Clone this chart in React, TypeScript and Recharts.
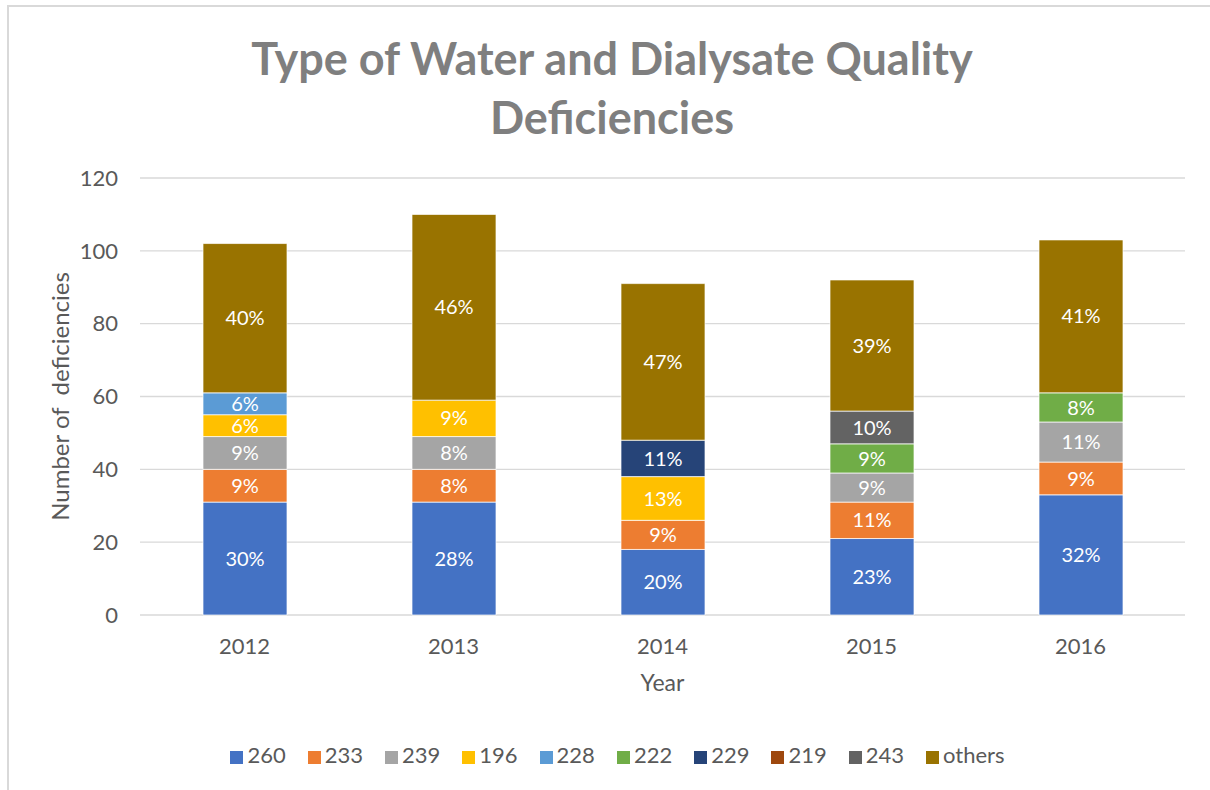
import { BarChart, Bar, XAxis, YAxis, CartesianGrid, Legend, LabelList } from 'recharts'

const years = ['2012', '2013', '2014', '2015', '2016']
const codes = ['260', '233', '239', '196', '228', '222', '229', '219', '243', 'others']
const COLORS = ['#4472C4', '#ED7D31', '#A5A5A5', '#FFC000', '#5B9BD5', '#70AD47', '#264478', '#9E480E', '#636363', '#997300']

// counts per year, bottom to top of each stack
const s260 = [31, 31, 18, 21, 33]
const s233 = [9, 9, 8, 10, 9]
const s239 = [9, 9, 0, 8, 11]
const s196 = [6, 10, 12, 0, 0]
const s228 = [6, 0, 0, 0, 0]
const s222 = [0, 0, 0, 8, 8]
const s229 = [0, 0, 10, 0, 0]
const s219 = [0, 0, 0, 0, 0]
const s243 = [0, 0, 0, 9, 0]
const sOthers = [41, 51, 43, 36, 42]

const series = [s260, s233, s239, s196, s228, s222, s229, s219, s243, sOthers]
const yTicks = [0, 20, 40, 60, 80, 100, 120]

const rows = years.map((year, i) => {
  const total = series.reduce((sum, s) => sum + s[i], 0)
  const row: Record<string, string | number> = { year }
  codes.forEach((c, k) => {
    const v = series[k][i]
    row[c] = v
    row[`${c}_pct`] = v > 0 ? `${Math.round((v / total) * 100)}%` : ''
  })
  return row
})

const TEXT = '#595959'

export default function App() {
  return (
    <div style={{ position: 'relative', width: 1210, height: 790, overflow: 'hidden', fontFamily: 'Lato, sans-serif', background: '#fff' }}>
      <style>{`body{margin:0;overflow:hidden}`}</style>
      <div style={{ position: 'absolute', left: 7, top: 5, width: 1400, height: 1000, borderLeft: '2px solid #D9D9D9', borderTop: '2px solid #D9D9D9' }} />
      <div style={{ position: 'absolute', left: 0, width: 1224, top: 29, textAlign: 'center', fontSize: 45, fontWeight: 700, color: '#7F7F7F', lineHeight: '59px' }}>
        Type of Water and Dialysate Quality<br />Deficiencies
      </div>
      <div style={{ position: 'absolute', left: 0, top: 0 }}>
        <BarChart width={1210} height={790} data={rows} margin={{ top: 178, right: 25, left: 0, bottom: 22 }} barSize={84}>
          <CartesianGrid vertical={false} stroke="#D9D9D9" strokeWidth={1.4} />
          <XAxis
            dataKey="year"
            height={126}
            axisLine={false}
            tickLine={false}
            tickMargin={17}
            tick={{ fill: TEXT, fontSize: 22 }}
            label={{ value: 'Year', position: 'insideBottom', offset: 50, fill: TEXT, fontSize: 23 }}
          />
          <YAxis
            width={140}
            domain={[0, 120]}
            ticks={yTicks}
            axisLine={false}
            tickLine={false}
            tickMargin={16}
            tick={{ fill: TEXT, fontSize: 22 }}
            label={{ value: 'Number of\u00A0 deficiencies', angle: -90, position: 'insideLeft', offset: 60, fill: TEXT, fontSize: 24, style: { textAnchor: 'middle' } }}
          />
          <Legend
            verticalAlign="bottom"
            iconType="square"
            iconSize={13}
            itemSorter={(item: any) => codes.indexOf(String(item.value))}
            wrapperStyle={{ fontSize: 22, left: 36 }}
            formatter={(value: string) => <span style={{ color: TEXT, marginRight: 12 }}>{value}</span>}
          />
          {codes.map((c, k) => (
            <Bar key={c} dataKey={c} name={c} stackId="a" fill={COLORS[k]} stroke="#ffffff" strokeWidth={0.7} isAnimationActive={false}>
              <LabelList dataKey={`${c}_pct`} position="center" fill="#ffffff" fontSize={20} />
            </Bar>
          ))}
        </BarChart>
      </div>
    </div>
  )
}
